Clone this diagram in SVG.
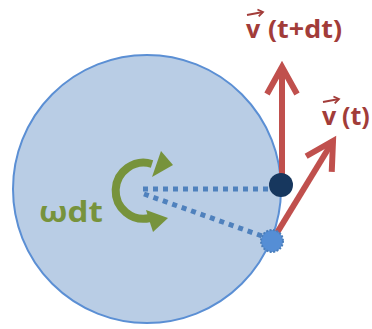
<svg xmlns="http://www.w3.org/2000/svg" width="372" height="329" viewBox="0 0 372 329">
<style>
.vel{stroke:#c0504d;stroke-width:6;fill:none}
.dots{stroke:#4f81bd;stroke-width:5;stroke-dasharray:5 5;fill:none}
.lbl{font-family:"Open Sans","Liberation Sans",sans-serif;font-weight:bold;fill:#a23c39}
.vec{stroke:#a23c39;stroke-width:2;fill:none}
</style>
<defs>
<marker id="head" markerUnits="userSpaceOnUse" markerWidth="40" markerHeight="40" refX="0" refY="0" viewBox="-32 -20 40 40" orient="auto" overflow="visible">
<path d="M-27,-15 L0,0 L-27,15" stroke="#c0504d" stroke-width="6" fill="none"/>
</marker>
<marker id="small" markerUnits="userSpaceOnUse" markerWidth="10" markerHeight="10" viewBox="-6 -5 10 10" refX="0" refY="0" orient="auto" overflow="visible">
<path d="M-5,-3.5 L0,0 L-5,3.5" stroke="#a23c39" stroke-width="1.8" fill="none"/>
</marker>
</defs>
<g id="disk">
<circle cx="147" cy="189" r="134" fill="#b9cde5" stroke="#5b8fd4" stroke-width="2"/>
</g>
<g id="connectors">
<line class="dots" x1="143" y1="189" x2="270" y2="189"/>
<line class="dots" x1="144" y1="194" x2="262" y2="236"/>
<line class="vel" x1="282" y1="185" x2="282" y2="67" marker-end="url(#head)"/>
<line class="vel" x1="272" y1="241" x2="333" y2="141" marker-end="url(#head)"/>
</g>
<g id="rotation">
<path d="M152,164 A28,28 0 1 0 150,218" stroke="#77933c" stroke-width="8" fill="none"/>
<polygon points="161,151 173,165 152,177" fill="#77933c"/>
<polygon points="146,210 168,218 153,232" fill="#77933c"/>
</g>
<g id="dot-t-dt">
<circle cx="281" cy="185" r="12" fill="#17375e"/>
</g>
<g id="dot-t">
<circle cx="272" cy="241" r="11" fill="#558ed5" stroke="#4a7ebb" stroke-width="2" stroke-dasharray="2 1.5"/>
</g>
<g id="label-omega">
<text class="lbl" x="39" y="222" font-size="29" style="fill:#77933c" textLength="64" lengthAdjust="spacingAndGlyphs">ωdt</text>
</g>
<g id="label-vtdt">
<text class="lbl" x="246" y="38" font-size="25">v</text>
<line class="vec" x1="247" y1="15" x2="263" y2="12" marker-end="url(#small)"/>
<text class="lbl" x="268" y="38" font-size="25" textLength="74" lengthAdjust="spacingAndGlyphs">(t+dt)</text>
</g>
<g id="label-vt">
<text class="lbl" x="322" y="125" font-size="25">v</text>
<line class="vec" x1="323" y1="102" x2="339" y2="99" marker-end="url(#small)"/>
<text class="lbl" x="342" y="125" font-size="25">(t)</text>
</g>
</svg>
